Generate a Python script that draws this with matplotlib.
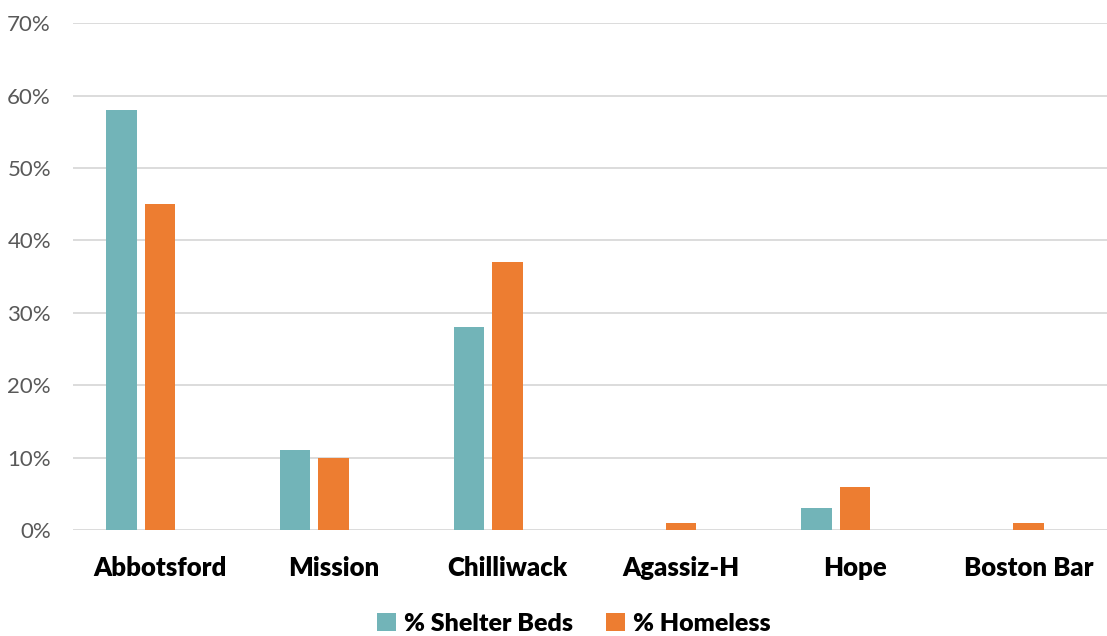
import numpy as np
import matplotlib
matplotlib.use("Agg")
import matplotlib.pyplot as plt
from matplotlib.ticker import FuncFormatter, MultipleLocator
from matplotlib.patches import Patch

categories = ["Abbotsford", "Mission", "Chilliwack", "Agassiz-H", "Hope", "Boston Bar"]
shelter_beds = [58, 11, 28, 0, 3, 0]
homeless = [45, 10, 37, 1, 6, 1]
series_names = ["% Shelter Beds", "% Homeless"]

teal = "#72B4B8"
orange = "#ED7D31"

plt.rcParams["font.family"] = ["Lato", "DejaVu Sans"]

fig = plt.figure(figsize=(11.07, 6.36), dpi=100)
W, H = 1107, 636
left, right = 73.2, 1107
bottom, top = 530, 23.3
ax = fig.add_axes([left / W, 1 - bottom / H, (right - left) / W, (bottom - top) / H])

x = np.arange(len(categories))
bar_w = 0.176
step = 0.222
ax.bar(x - step, shelter_beds, width=bar_w, color=teal, zorder=3)
ax.bar(x, homeless, width=bar_w, color=orange, zorder=3)

ax.set_xlim(-0.5, -0.5 + (right - left) / 173.7)
ax.set_ylim(0, 70)
ax.yaxis.set_major_locator(MultipleLocator(10))
ax.yaxis.set_major_formatter(FuncFormatter(lambda v, p: f"{int(round(v))}%"))
ax.grid(axis="y", color="#D9D9D9", linewidth=1.3, zorder=0)
ax.set_axisbelow(True)
for s in ax.spines.values():
    s.set_visible(False)
ax.tick_params(axis="y", length=0, pad=16, labelsize=16, labelcolor="#595959")
ax.tick_params(axis="x", length=0, pad=19, labelsize=18.5)
ax.set_xticks(x)
ax.set_xticklabels(categories, fontweight="heavy", color="black")

handles = [Patch(facecolor=teal, label=series_names[0]),
           Patch(facecolor=orange, label=series_names[1])]
fig.legend(handles=handles, loc="center", bbox_to_anchor=(574 / W, 1 - 624 / H),
           ncol=2, frameon=False, prop={"weight": "heavy", "size": 18},
           handlelength=0.75, handleheight=0.75, handletextpad=0.35, columnspacing=1.3)

fig.savefig("out.png", dpi=100, facecolor="white")
